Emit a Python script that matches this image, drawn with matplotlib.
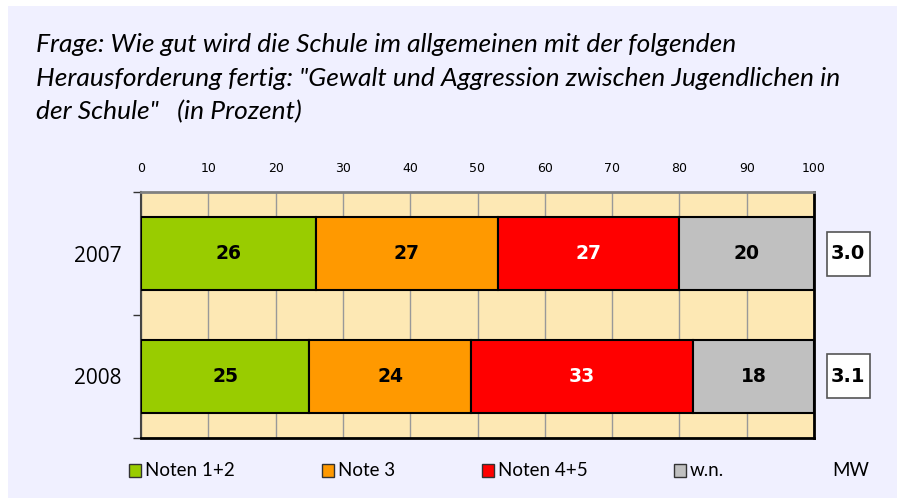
import matplotlib.pyplot as plt
from matplotlib.patches import Rectangle

years = ["2007", "2008"]
categories = ["Noten 1+2", "Note 3", "Noten 4+5", "w.n."]
values = {
    "Noten 1+2": [26, 25],
    "Note 3": [27, 24],
    "Noten 4+5": [27, 33],
    "w.n.": [20, 18],
}
mw = ["3.0", "3.1"]
colors = ["#99CC00", "#FF9900", "#FF0000", "#C0C0C0"]
label_colors = ["black", "black", "white", "black"]

title = ('Frage: Wie gut wird die Schule im allgemeinen mit der folgenden\n'
         'Herausforderung fertig: "Gewalt und Aggression zwischen Jugendlichen in\n'
         'der Schule"   (in Prozent)')

W, H = 898, 498
fig = plt.figure(figsize=(W / 100, H / 100), dpi=100)
fig.patch.set_facecolor("white")
fig.patches.append(Rectangle((8 / W, 0), (897 - 8) / W, 1 - 6 / H,
                             transform=fig.transFigure,
                             facecolor="#F0F0FF", edgecolor="none", zorder=-10))

fig.text(36 / W, 1 - 33 / H, title, ha="left", va="top", fontsize=19,
         style="italic", family="Lato", linespacing=1.56)

ax = fig.add_axes([141 / W, 1 - 438 / H, (814 - 141) / W, (438 - 192) / H])
ax.set_facecolor("#FDE8B4")

left = [0, 0]
for cat, col, lc in zip(categories, colors, label_colors):
    vals = values[cat]
    ax.barh(range(len(years)), vals, left=left, height=0.6, color=col,
            edgecolor="black", linewidth=1.5, zorder=3)
    for i, v in enumerate(vals):
        ax.text(left[i] + v / 2, i, str(v), ha="center", va="center",
                fontsize=13.5, fontweight="bold", color=lc, zorder=4)
    left = [a + b for a, b in zip(left, vals)]

ax.set_xlim(0, 100)
ax.set_ylim(1.5, -0.5)
ax.set_xticks(range(0, 101, 10))
ax.xaxis.tick_top()
ax.tick_params(axis="x", length=0, pad=12, labelsize=9)
ax.set_yticks(range(len(years)))
ax.set_yticklabels(years, fontsize=15, family="Open Sans")
ax.set_yticks([-0.5, 0.5, 1.5], minor=True)
ax.tick_params(axis="y", which="major", length=0, pad=14)
ax.tick_params(axis="y", which="minor", length=6, width=1, color="#333333")
ax.grid(axis="x", color="#999999", linewidth=1, zorder=1)
ax.set_axisbelow(True)

ax.spines["top"].set_color("#808080")
ax.spines["top"].set_linewidth(2)
for s in ["bottom", "right"]:
    ax.spines[s].set_color("black")
    ax.spines[s].set_linewidth(2)
ax.spines["left"].set_color("#444444")
ax.spines["left"].set_linewidth(1.5)

# MW boxes, one per year row
for i, m in enumerate(mw):
    yc = 1 - (i + 0.5) / 2
    fig_w = (814 - 141)
    bw = 43 / fig_w
    bh = 44 / (438 - 192)
    bx = (848 - 141) / fig_w
    ax.add_patch(Rectangle((bx - bw / 2, yc - bh / 2), bw, bh,
                           transform=ax.transAxes, clip_on=False,
                           facecolor="white", edgecolor="#555555",
                           linewidth=1.2))
    ax.text(bx, yc, m, transform=ax.transAxes, ha="center", va="center",
            fontsize=14, fontweight="bold")

legend_x = [129, 322, 482, 674]
for x, cat, col in zip(legend_x, categories, colors):
    fig.patches.append(Rectangle((x / W, 1 - 477 / H), 12 / W, 13 / H,
                                 transform=fig.transFigure, facecolor=col,
                                 edgecolor="#333333", linewidth=1))
    fig.text((x + 16) / W, 1 - 470 / H, cat, ha="left", va="center",
             fontsize=13.5, family="Lato")
fig.text(832 / W, 1 - 470 / H, "MW", ha="left", va="center", fontsize=13.5,
         family="Lato")

fig.savefig("out.png", dpi=100, facecolor=fig.get_facecolor())
